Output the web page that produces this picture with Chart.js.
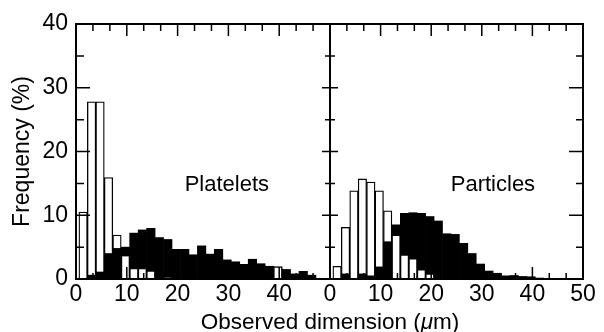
<!DOCTYPE html>
<html>
<head>
<meta charset="utf-8">
<script src="https://cdn.jsdelivr.net/npm/chart.js@4.4.1/dist/chart.umd.min.js"></script>
<style>
  body { margin: 0; background: #fff; width: 604px; height: 332px; position: relative; overflow: hidden;
         font-family: "Liberation Sans", Arial, Helvetica, sans-serif; }
  #platelets { position: absolute; left: 0; top: 0; }
  #particles { position: absolute; left: 320px; top: 0; }
  #xtitle { position: absolute; left: 130px; width: 400px; top: 309px; line-height: 26px;
            font-size: 22.5px; text-align: center; color: #000; }
</style>
</head>
<body>
<canvas id="platelets" width="340" height="332"></canvas>
<canvas id="particles" width="284" height="332"></canvas>
<div id="xtitle">Observed dimension (<i>μ</i>m)</div>

<script>
// histogram bins (bin centres, µm) - same bins in both panels
const binCenters = [1.4, 3.067, 4.733, 6.4, 8.067, 9.733, 11.4, 13.067, 14.733, 16.4,
                    18.067, 19.733, 21.4, 23.067, 24.733, 26.4, 28.067, 29.733, 31.4, 33.067,
                    34.733, 36.4, 38.067, 39.733, 41.4, 43.067, 44.733, 46.4, 48.067, 49.733];

// frequency (%) - open bars and filled bars
const plateletsOpen   = [10.5, 27.8, 27.8, 15.9, 6.9, 3.7, 1.7, 1.7, 1.3, 0,
                         0.3, 0, 0, 0, 0, 0, 0, 0, 0, 0,
                         0, 0, 0, 1.9, 0, 0, 0, 0, 0, 0];
const plateletsFilled = [0, 0.6, 1.1, 4.0, 4.8, 5.0, 7.2, 7.7, 7.95, 6.5,
                         6.2, 4.65, 4.65, 3.8, 5.2, 3.9, 4.65, 3.0, 2.7, 2.3,
                         3.1, 2.4, 2.0, 1.9, 1.5, 0.8, 1.2, 0.6, 0, 0];
const particlesOpen   = [2.0, 8.1, 13.85, 15.7, 15.2, 13.85, 10.7, 6.9, 3.8, 3.2,
                         1.5, 0.8, 0, 0, 0, 0, 0, 0, 0, 0,
                         0, 0, 0, 0, 0, 0, 0, 0, 0, 0];
const particlesFilled = [0, 0.8, 0, 0.8, 0.5, 1.9, 5.85, 8.5, 10.3, 10.4,
                         10.3, 9.8, 9.1, 7.1, 7.0, 5.6, 4.0, 2.35, 1.25, 0.9,
                         0.5, 0.55, 0.4, 0.35, 0.15, 0, 0, 0, 0, 0];

const xTickValues = [0, 10, 20, 30, 40, 50];
const leftXLabels = ['0', '10', '20', '30', '40', ''];
const rightXLabels = ['0', '10', '20', '30', '40', '50'];
const yTickValues = [0, 10, 20, 30, 40];
const yTitle = 'Frequency (%)';

const FONT = '"Liberation Sans", Arial, Helvetica, sans-serif';

// the smaller of the two bars in a bin sits in front of the taller one
function layeredDatasets(open, filled) {
    const pick = (test) => binCenters.map((x, i) => ({ x: x, y: test(open[i], filled[i]) }));
    const openStyle = { backgroundColor: '#fff', borderColor: '#000', borderWidth: 1.3 };
    const filledStyle = { backgroundColor: '#000', borderWidth: 0 };
    return [
        Object.assign({ label: 'open (front)', order: 0,
            data: pick((o, f) => (o > 0 && o <= f ? o : null)) }, openStyle),
        Object.assign({ label: 'filled (front)', order: 0,
            data: pick((o, f) => (f > 0 && f < o ? f : null)) }, filledStyle),
        Object.assign({ label: 'open (back)', order: 1,
            data: pick((o, f) => (o > 0 && o > f ? o : null)) }, openStyle),
        Object.assign({ label: 'filled (back)', order: 1,
            data: pick((o, f) => (f > 0 && f >= o ? f : null)) }, filledStyle)
    ];
}

// panel frame with inward tick marks
const framePlugin = {
    id: 'frame',
    afterDatasetsDraw(chart, args, opts) {
        const { ctx, chartArea: area, scales: { x, y } } = chart;
        ctx.save();
        ctx.strokeStyle = '#000';
        ctx.lineWidth = 1.5;
        ctx.beginPath();
        for (let i = 0; i <= 15; i++) {
            const px = x.getPixelForValue(i * 10 / 3);
            const major = i % 3 === 0;
            ctx.moveTo(px, area.top);
            ctx.lineTo(px, area.top + (major ? 12 : 7));
            ctx.moveTo(px, area.bottom);
            ctx.lineTo(px, area.bottom - (major ? 12 : 6));
        }
        for (let v = 5; v < 40; v += 5) {
            const py = y.getPixelForValue(v);
            const major = v % 10 === 0;
            ctx.moveTo(area.left, py);
            ctx.lineTo(area.left + (major ? opts.leftTicks[0] : opts.leftTicks[1]), py);
            ctx.moveTo(area.right, py);
            ctx.lineTo(area.right - (major ? opts.rightTicks[0] : opts.rightTicks[1]), py);
        }
        ctx.stroke();
        ctx.lineWidth = 2;
        ctx.strokeRect(area.left, area.top, area.right - area.left, area.bottom - area.top);

        // panel name
        ctx.fillStyle = '#000';
        ctx.font = '22px ' + FONT;
        ctx.textAlign = 'center';
        ctx.textBaseline = 'middle';
        ctx.fillText(opts.name, x.getPixelForValue(opts.nameAt[0]), y.getPixelForValue(opts.nameAt[1]));
        ctx.restore();
    }
};

function makePanel(canvasId, open, filled, xLabels, showY, padding, frameOpts) {
    const ctx = document.getElementById(canvasId).getContext('2d');
    return new Chart(ctx, {
        type: 'bar',
        data: { datasets: layeredDatasets(open, filled) },
        options: {
            responsive: false,
            animation: false,
            devicePixelRatio: 1,
            layout: { padding: padding },
            datasets: { bar: { grouped: false, barPercentage: 1, categoryPercentage: 1 } },
            plugins: { legend: { display: false }, tooltip: { enabled: false }, frame: frameOpts },
            scales: {
                x: {
                    type: 'linear',
                    min: 0,
                    max: 50,
                    offset: false,
                    grid: { display: false, drawTicks: false },
                    border: { display: false },
                    afterBuildTicks: (scale) => { scale.ticks = xTickValues.map(v => ({ value: v })); },
                    afterFit: (scale) => { scale.height = 53; },
                    ticks: {
                        autoSkip: false,
                        maxRotation: 0,
                        padding: 2,
                        color: '#000',
                        font: { family: FONT, size: 23 },
                        callback: (value, index) => xLabels[index]
                    }
                },
                y: {
                    display: showY,
                    min: 0,
                    max: 40,
                    grid: { display: false, drawTicks: false },
                    border: { display: false },
                    afterBuildTicks: (scale) => { scale.ticks = yTickValues.map(v => ({ value: v })); },
                    afterFit: (scale) => { scale.width = showY ? 76 : 0; },
                    title: {
                        display: true,
                        text: yTitle,
                        color: '#000',
                        padding: { top: 9, bottom: 4 },
                        font: { family: FONT, size: 23 }
                    },
                    ticks: {
                        padding: 8,
                        color: '#000',
                        font: { family: FONT, size: 23 },
                        callback: (value, index) => String(yTickValues[index])
                    }
                }
            }
        },
        plugins: [framePlugin]
    });
}

makePanel('platelets', plateletsOpen, plateletsFilled, leftXLabels, true,
    { left: 0, right: 10, top: 24, bottom: 0 },
    { name: 'Platelets', nameAt: [29.7, 14.7], leftTicks: [14, 8], rightTicks: [8, 5] });

makePanel('particles', particlesOpen, particlesFilled, rightXLabels, false,
    { left: 10, right: 21, top: 24, bottom: 0 },
    { name: 'Particles', nameAt: [32.2, 14.7], leftTicks: [8, 5], rightTicks: [14, 7] });
</script>
</body>
</html>
